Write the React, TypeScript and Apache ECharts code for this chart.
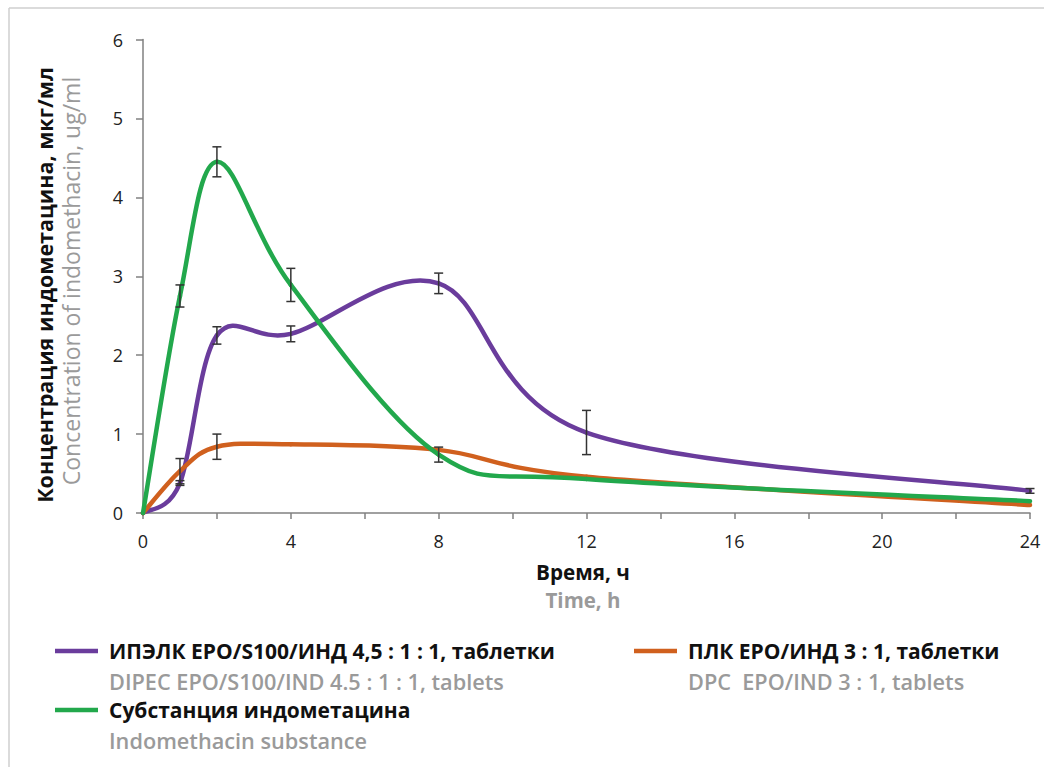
import React, { useEffect, useRef } from "react";
import * as echarts from "echarts";

// ---- data ----
const times = [0, 1, 2, 4, 8, 12, 24];
const dipecValues = [0, 0.38, 2.25, 2.27, 2.91, 1.02, 0.28];
const dipecErrors = [0, 0.03, 0.11, 0.1, 0.13, 0.28, 0.03];
const dpcValues = [0, 0.53, 0.84, 0.87, 0.8, 0.46, 0.1];
const dpcErrors = [0, 0.16, 0.16, 0, 0, 0, 0];
const substanceValues = [0, 2.75, 4.45, 2.89, 0.74, 0.43, 0.15];
const substanceErrors = [0, 0.14, 0.19, 0.21, 0.095, 0, 0];

const legendRu = [
  "ИПЭЛК EPO/S100/ИНД 4,5 : 1 : 1, таблетки",
  "ПЛК EPO/ИНД 3 : 1, таблетки",
  "Субстанция индометацина",
];
const legendEn = [
  "DIPEC EPO/S100/IND 4.5 : 1 : 1, tablets",
  "DPC  EPO/IND 3 : 1, tablets",
  "Indomethacin substance",
];
const xTitleRu = "Время, ч";
const xTitleEn = "Time, h";
const yTitleRu = "Концентрация индометацина, мкг/мл";
const yTitleEn = "Concentration of indomethacin, ug/ml";

const COLORS = ["#6A3C9C", "#D0601E", "#22A84C"];
const FONT = "'Open Sans', sans-serif";

function curveRenderer(values: number[], color: string) {
  return (params: any, api: any) => {
    const i = params.dataIndex;
    const n = times.length;
    if (i >= n - 1) return { type: "group", children: [] };
    const pt = (k: number) => {
      const kk = Math.max(0, Math.min(n - 1, k));
      return api.coord([times[kk], values[kk]]);
    };
    const p0 = pt(i - 1), p1 = pt(i), p2 = pt(i + 1), p3 = pt(i + 2);
    return {
      type: "bezierCurve",
      shape: {
        x1: p1[0], y1: p1[1], x2: p2[0], y2: p2[1],
        cpx1: p1[0] + (p2[0] - p0[0]) / 6,
        cpy1: p1[1] + (p2[1] - p0[1]) / 6,
        cpx2: p2[0] - (p3[0] - p1[0]) / 6,
        cpy2: p2[1] - (p3[1] - p1[1]) / 6,
      },
      style: { stroke: color, lineWidth: 4.5, fill: null, lineCap: "round" },
    };
  };
}

function errRenderer(params: any, api: any) {
  const t = api.value(0), v = api.value(1), e = api.value(2);
  if (!e) return { type: "group", children: [] };
  const top = api.coord([t, v + e]);
  const bot = api.coord([t, v - e]);
  const hw = 4.5;
  const st = { stroke: "#333", lineWidth: 1.5 };
  return {
    type: "group",
    children: [
      { type: "line", shape: { x1: top[0], y1: top[1], x2: bot[0], y2: bot[1] }, style: st },
      { type: "line", shape: { x1: top[0] - hw, y1: top[1], x2: top[0] + hw, y2: top[1] }, style: st },
      { type: "line", shape: { x1: bot[0] - hw, y1: bot[1], x2: bot[0] + hw, y2: bot[1] }, style: st },
    ],
  };
}

export default function App() {
  const ref = useRef<HTMLDivElement>(null);
  useEffect(() => {
    if (!ref.current) return;
    const chart = echarts.init(ref.current, null, { renderer: "svg" });
    const valueSets = [dipecValues, dpcValues, substanceValues];
    const errSets = [dipecErrors, dpcErrors, substanceErrors];
    const series: any[] = [];
    valueSets.forEach((vals, s) => {
      series.push({
        type: "custom",
        name: legendRu[s],
        renderItem: curveRenderer(vals, COLORS[s]),
        data: times.map((t, i) => [t, vals[i]]),
        encode: { x: 0, y: 1 },
        clip: false,
        z: 2,
      });
    });
    valueSets.forEach((vals, s) => {
      series.push({
        type: "custom",
        renderItem: errRenderer,
        data: times.map((t, i) => [t, vals[i], errSets[s][i]]),
        encode: { x: 0, y: 1 },
        clip: false,
        z: 5,
      });
    });

    const legendRows = [
      { x: 55, y: 651, i: 0 },
      { x: 634, y: 651, i: 1 },
      { x: 55, y: 710, i: 2 },
    ];
    const graphic: any[] = [
      { type: "line", shape: { x1: 9, y1: 8, x2: 1044, y2: 8 }, style: { stroke: "#cfcfcf", lineWidth: 1.5 } },
      { type: "line", shape: { x1: 9, y1: 8, x2: 9, y2: 767 }, style: { stroke: "#cfcfcf", lineWidth: 1.5 } },
      {
        type: "text", x: 44, y: 285, rotation: Math.PI / 2,
        style: { text: yTitleRu, font: `bold 21.5px ${FONT}`, fill: "#111", align: "center", verticalAlign: "middle" },
      },
      {
        type: "text", x: 71, y: 281, rotation: Math.PI / 2,
        style: { text: yTitleEn, font: `23px ${FONT}`, fill: "#9a9a9a", align: "center", verticalAlign: "middle" },
      },
      {
        type: "text", x: 583, y: 572,
        style: { text: xTitleRu, font: `bold 20.7px ${FONT}`, fill: "#111", align: "center", verticalAlign: "middle" },
      },
      {
        type: "text", x: 583, y: 600,
        style: { text: xTitleEn, font: `bold 20.5px ${FONT}`, fill: "#9a9a9a", align: "center", verticalAlign: "middle" },
      },
    ];
    legendRows.forEach((r) => {
      graphic.push({
        type: "line",
        shape: { x1: r.x, y1: r.y, x2: r.x + 43, y2: r.y },
        style: { stroke: COLORS[r.i], lineWidth: 4.5 },
      });
      graphic.push({
        type: "text", x: r.x + 54, y: r.y,
        style: { text: legendRu[r.i], font: `bold 21px ${FONT}`, fill: "#111", align: "left", verticalAlign: "middle" },
      });
      graphic.push({
        type: "text", x: r.x + 54, y: r.y + 30,
        style: { text: legendEn[r.i], font: `600 21.7px ${FONT}`, fill: "#9a9a9a", align: "left", verticalAlign: "middle" },
      });
    });

    chart.setOption({
      animation: false,
      backgroundColor: "#ffffff",
      grid: { left: 143, right: 14, top: 39.5, bottom: 254, containLabel: false },
      xAxis: {
        type: "value",
        min: 0,
        max: 24,
        interval: 2,
        axisLine: { lineStyle: { color: "#808080", width: 1.5 } },
        axisTick: { show: true, length: 6, lineStyle: { color: "#808080", width: 1.5 } },
        axisLabel: {
          margin: 19,
          fontSize: 18,
          color: "#222",
          fontFamily: FONT,
          formatter: (v: number) => (v % 4 === 0 ? String(v) : ""),
        },
        splitLine: { show: false },
      },
      yAxis: {
        type: "value",
        min: 0,
        max: 6,
        interval: 1,
        axisLine: { show: true, lineStyle: { color: "#808080", width: 1.5 } },
        axisTick: { show: true, length: 7, lineStyle: { color: "#808080", width: 1.5 } },
        axisLabel: { margin: 20, fontSize: 18, color: "#222", fontFamily: FONT },
        splitLine: { show: false },
      },
      series,
      graphic,
    });
    return () => chart.dispose();
  }, []);
  return (
    <div
      ref={ref}
      style={{ position: "fixed", left: 0, top: 0, width: 1044, height: 767, background: "#fff" }}
    />
  );
}
